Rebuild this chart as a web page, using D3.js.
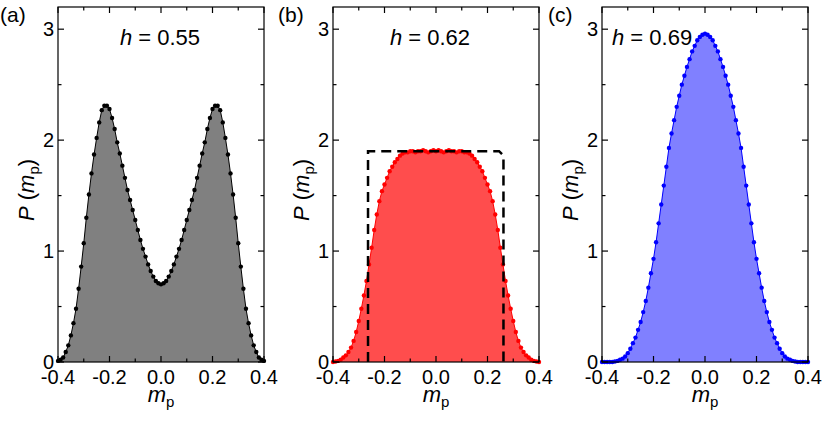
<!DOCTYPE html>
<html><head><meta charset="utf-8">
<script src="https://cdn.jsdelivr.net/npm/d3@7"></script>
<style>body{margin:0;background:#fff}svg{display:block;font-family:"Liberation Sans",Arial,sans-serif}</style>
</head><body><svg id="c" width="828" height="427"></svg>
<script>
const mValues = d3.range(-40, 41).map(i => i / 100);
const seriesA = [0.01,0.02,0.04,0.09,0.15,0.24,0.35,0.48,0.66,0.86,1.07,1.30,1.51,1.70,1.87,2.02,2.16,2.27,2.31,2.31,2.28,2.20,2.10,1.98,1.88,1.77,1.66,1.55,1.46,1.37,1.28,1.19,1.10,1.02,0.95,0.88,0.82,0.77,0.73,0.71,
 0.70,0.71,0.73,0.77,0.82,0.88,0.95,1.02,1.10,1.19,1.28,1.37,1.46,1.55,1.66,1.77,1.88,1.98,2.10,2.20,2.28,2.31,2.31,2.27,2.16,2.02,1.87,1.70,1.51,1.30,1.07,0.86,0.66,0.48,0.35,0.24,0.15,0.09,0.04,0.02,0.01];
const seriesB = [0.0,0.005,0.01,0.02,0.04,0.06,0.09,0.13,0.19,0.27,0.37,0.48,0.60,0.73,0.88,1.03,1.19,1.33,1.45,1.54,1.60,1.66,1.72,1.76,1.80,1.83,1.86,1.88,1.89,1.89,1.90,1.90,1.89,1.90,1.90,1.91,1.90,1.89,1.90,1.91,
 1.90,1.91,1.90,1.89,1.90,1.91,1.90,1.90,1.89,1.90,1.90,1.89,1.89,1.88,1.86,1.83,1.80,1.76,1.72,1.66,1.60,1.54,1.45,1.33,1.19,1.03,0.88,0.73,0.60,0.48,0.37,0.27,0.19,0.13,0.09,0.06,0.04,0.02,0.01,0.005,0.0];
const seriesC = [0,0,0,0,0,0.005,0.01,0.02,0.03,0.05,0.08,0.12,0.17,0.22,0.29,0.36,0.45,0.55,0.67,0.80,0.93,1.08,1.25,1.42,1.59,1.76,1.93,2.06,2.18,2.30,2.40,2.50,2.58,2.66,2.73,2.80,2.85,2.90,2.93,2.95,
 2.96,2.95,2.93,2.90,2.85,2.80,2.73,2.66,2.58,2.50,2.40,2.30,2.18,2.06,1.93,1.76,1.59,1.42,1.25,1.08,0.93,0.80,0.67,0.55,0.45,0.36,0.29,0.22,0.17,0.12,0.08,0.05,0.03,0.02,0.01,0.005,0,0,0,0,0];
const dashedX = [-0.264,-0.264,0.245,0.262,0.262];
const dashedY = [0,1.90,1.90,1.86,0];
const xTicks = [-0.4,-0.2,0.0,0.2,0.4];
const xMinor = [-0.3,-0.1,0.1,0.3];
const yTicks = [0,1,2,3];
const yMinor = [0.5,1.5,2.5];
const panelLabels = ["(a)","(b)","(c)"];
const hLabels = ["0.55","0.62","0.69"];

const svg = d3.select("#c");
const panels = [
 {x0:58, data:seriesA, fill:"#808080", dot:"#000000", lab:0, hx:160, hAnchor:"middle"},
 {x0:333, data:seriesB, fill:"#ff4d4d", dot:"#ff0000", lab:278, hx:430, hAnchor:"middle", dashed:true},
 {x0:602, data:seriesC, fill:"#8080ff", dot:"#0000ff", lab:548, hx:612, hAnchor:"start"}
];
const W = 206, topY = 7, bottomY = 362;
panels.forEach((p, i) => {
  const x = d3.scaleLinear().domain([-0.4,0.4]).range([p.x0, p.x0+W]);
  const y = d3.scaleLinear().domain([0,3.2]).range([bottomY, topY]);
  const g = svg.append("g");
  const pts = mValues.map((m,j)=>[m,p.data[j]]);
  g.append("path").attr("d", d3.area().x(d=>x(d[0])).y0(y(0)).y1(d=>y(d[1]))(pts)).attr("fill", p.fill);
  g.append("path").attr("d", d3.line().x(d=>x(d[0])).y(d=>y(d[1]))(pts)).attr("fill","none").attr("stroke",p.dot).attr("stroke-width",1);
  g.selectAll("circle").data(pts).join("circle").attr("cx",d=>x(d[0])).attr("cy",d=>y(d[1])).attr("r",2.2).attr("fill",p.dot);
  if (p.dashed) {
    const dp = dashedX.map((v,j)=>[v,dashedY[j]]);
    g.append("path").attr("d", d3.line().x(d=>x(d[0])).y(d=>y(d[1]))(dp)).attr("fill","none").attr("stroke","#000").attr("stroke-width",2.5).attr("stroke-dasharray","10,6");
  }
  g.append("rect").attr("x",p.x0).attr("y",topY).attr("width",W).attr("height",bottomY-topY).attr("fill","none").attr("stroke","#000").attr("stroke-width",1.2);
  const tick = (x1,y1,x2,y2)=>g.append("line").attr("x1",x1).attr("y1",y1).attr("x2",x2).attr("y2",y2).attr("stroke","#000").attr("stroke-width",1.2);
  xTicks.forEach(t=>{tick(x(t),bottomY,x(t),bottomY-6);tick(x(t),topY,x(t),topY+6);});
  xMinor.forEach(t=>{tick(x(t),bottomY,x(t),bottomY-3.5);tick(x(t),topY,x(t),topY+3.5);});
  yTicks.forEach(t=>{tick(p.x0,y(t),p.x0+6,y(t));tick(p.x0+W,y(t),p.x0+W-6,y(t));});
  yMinor.forEach(t=>{tick(p.x0,y(t),p.x0+3.5,y(t));tick(p.x0+W,y(t),p.x0+W-3.5,y(t));});
  xTicks.forEach(t=>g.append("text").attr("x",x(t)).attr("y",bottomY+22).attr("text-anchor","middle").attr("font-size",20).text(t.toFixed(1)));
  yTicks.forEach(t=>g.append("text").attr("x",p.x0-4).attr("y",y(t)+7).attr("text-anchor","end").attr("font-size",20).text(t));
  const xl = g.append("text").attr("x",p.x0+W/2).attr("y",402).attr("text-anchor","middle").attr("font-size",22);
  xl.append("tspan").attr("font-style","italic").text("m");
  xl.append("tspan").attr("font-size",15).attr("dy",5).text("p");
  const yl = g.append("text").attr("transform",`translate(${p.x0-24},${190}) rotate(-90)`).attr("text-anchor","middle").attr("font-size",22);
  yl.append("tspan").attr("font-style","italic").text("P");
  yl.append("tspan").text(" (");
  yl.append("tspan").attr("font-style","italic").text("m");
  yl.append("tspan").attr("font-size",15).attr("dy",5).text("p");
  yl.append("tspan").attr("dy",-5).text(")");
  g.append("text").attr("x",p.lab).attr("y",22).attr("font-size",21).text(panelLabels[i]);
  const ht = g.append("text").attr("x",p.hx).attr("y",45).attr("text-anchor",p.hAnchor).attr("font-size",22);
  ht.append("tspan").attr("font-style","italic").text("h");
  ht.append("tspan").text(" = "+hLabels[i]);
});
</script></body></html>
